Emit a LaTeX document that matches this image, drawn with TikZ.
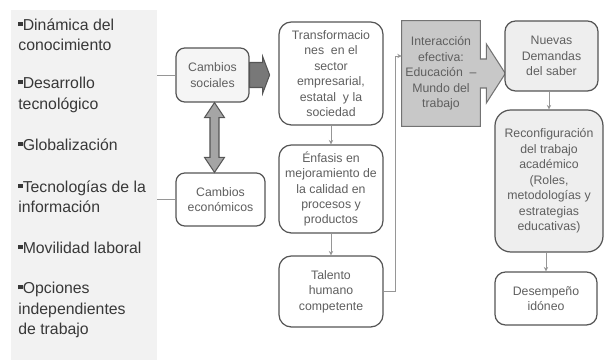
\documentclass[tikz,border=0pt]{standalone}
\usepackage{fontspec}
\setmainfont{Liberation Sans}
\usepackage{tikz}
\usetikzlibrary{calc,arrows.meta}

\definecolor{panelgray}{RGB}{242,242,242}
\definecolor{edgegray}{RGB}{85,85,85}
\definecolor{textgray}{RGB}{95,95,95}
\definecolor{linkgray}{RGB}{150,150,150}
\definecolor{fatgray}{RGB}{120,120,120}
\definecolor{dblgray}{RGB}{165,165,165}
\definecolor{intergray}{RGB}{200,200,200}
\definecolor{softgray}{RGB}{238,238,238}
\newcommand{\bul}{\rule[0.55ex]{0.28em}{0.28em}}

\tikzset{
  box/.style={draw=edgegray, line width=0.7pt, rounded corners=5pt, fill=white,
    align=center, inner sep=0pt, text=textgray, font=\fontsize{7}{8.8}\selectfont},
  item/.style={anchor=west, align=left, inner sep=0pt, text=black!78,
    font=\fontsize{9}{11.5}\selectfont},
  link/.style={draw=linkgray, line width=0.5pt, -{Stealth[length=2.5pt,width=2.5pt]}},
  fat/.style={draw=edgegray, line width=0.6pt, line join=miter}
}

\begin{document}
\begin{tikzpicture}
\useasboundingbox (0,0) rectangle (12.08,7.2);

% factores externos
\path (1.68,3.5) node[fill=panelgray, minimum width=2.92cm, minimum height=7cm, inner sep=0pt] (ext) {};
\path (0.36,6.5) node[item] (i1) {\bul Dinámica del\\conocimiento};
\path (0.36,5.3) node[item] (i2) {\bul Desarrollo\\tecnológico};
\path (0.36,4.3) node[item] (i3) {\bul Globalización};
\path (0.36,3.26) node[item] (i4) {\bul Tecnologías de la\\información};
\path (0.36,2.24) node[item] (i5) {\bul Movilidad laboral};
\path (0.36,1.0) node[item] (i6) {\bul Opciones\\independientes\\de trabajo};

% cambios
\path (4.25,5.7) node[box, fill=softgray!60, minimum width=1.46cm, minimum height=1.08cm] (soc) {Cambios\\sociales};
\path (4.41,3.21) node[box, minimum width=1.78cm, minimum height=1.06cm] (eco) {Cambios\\económicos};
\draw[linkgray, line width=0.5pt] (ext.east |- soc.west) -- (soc.west);
\draw[linkgray, line width=0.5pt] (ext.east |- eco.west) -- (eco.west);

% flecha doble
\coordinate (dt) at ($(soc.south)+(0.04,0)$);
\coordinate (db) at (dt |- eco.north);
\draw[fat, fill=dblgray] (dt) -- ++(0.2,-0.3) -- ++(-0.11,0) -- ($(db)+(0.09,0.3)$) -- ++(0.11,0) -- (db)
  -- ++(-0.2,0.3) -- ++(0.11,0) -- ($(dt)+(-0.09,-0.3)$) -- ++(-0.11,0) -- cycle;

% sector productivo
\path (6.62,5.73) node[box, rounded corners=7pt, minimum width=2.08cm, minimum height=2.06cm] (trans)
  {Transformacio\\nes\ \ en el\\sector\\empresarial,\\estatal\ \ y la\\sociedad};
\path (6.62,3.42) node[box, rounded corners=7pt, minimum width=2.08cm, minimum height=1.76cm] (enf)
  {Énfasis en\\mejoramiento de\\la calidad en\\procesos y\\productos};
\path (6.62,1.37) node[box, rounded corners=7pt, minimum width=2.08cm, minimum height=1.42cm] (tal)
  {Talento\\humano\\competente};

% flecha gruesa
\draw[fat, fill=fatgray] ($(soc.east)+(0,0.25)$) -- ++(0.26,0) -- ++(0,0.12) -- ($(soc.east)+(0.4,0)$)
  -- ($(soc.east)+(0.26,-0.37)$) -- ++(0,0.12) -- ++(-0.26,0) -- cycle;

\draw[link] (trans) -- (enf);
\draw[link] (enf) -- (tal);

% interaccion
\path (8.82,5.73) node[fill=intergray, minimum width=1.56cm, minimum height=2.1cm, inner sep=0pt,
  align=center, text=textgray, font=\fontsize{7}{8.8}\selectfont] (inter)
  {Interacción\\efectiva:\\Educación\ \ --\\Mundo del\\trabajo};
\fill[intergray] ($(inter.east)+(-0.02,0.29)$) -- ++(0.14,0) -- ++(0,0.3) -- ($(inter.east)+(0.5,0)$)
  -- ($(inter.east)+(0.12,-0.59)$) -- ++(0,0.3) -- ++(-0.14,0) -- cycle;
\draw[fat, draw=black!55] (inter.north west) -- (inter.north east) -- ($(inter.east)+(0,0.29)$) -- ++(0.12,0)
  -- ++(0,0.3) -- ($(inter.east)+(0.5,0)$) -- ($(inter.east)+(0.12,-0.59)$) -- ++(0,0.3) -- ++(-0.12,0)
  -- (inter.south east) -- (inter.south west) -- cycle;
\draw[link] (tal.east) -- ++(0.24,0) |- ($(inter.west)+(0,0.35)$);

% academia
\path (11.03,6.08) node[box, fill=softgray, rounded corners=6pt, minimum width=1.86cm, minimum height=1.4cm] (nue)
  {Nuevas\\Demandas\\del saber};
\path (10.98,3.58) node[box, fill=softgray, rounded corners=9pt, minimum width=2.16cm, minimum height=2.84cm] (reco)
  {Reconfiguración\\del trabajo\\académico\\(Roles,\\metodologías y\\estrategias\\educativas)};
\path (10.92,1.23) node[box, rounded corners=6pt, minimum width=2.04cm, minimum height=1.06cm] (des)
  {Desempeño\\idóneo};
\draw[link] (nue.south -| reco) -- (reco.north);
\draw[link] (reco.south -| des) -- (des.north);
\end{tikzpicture}
\end{document}
